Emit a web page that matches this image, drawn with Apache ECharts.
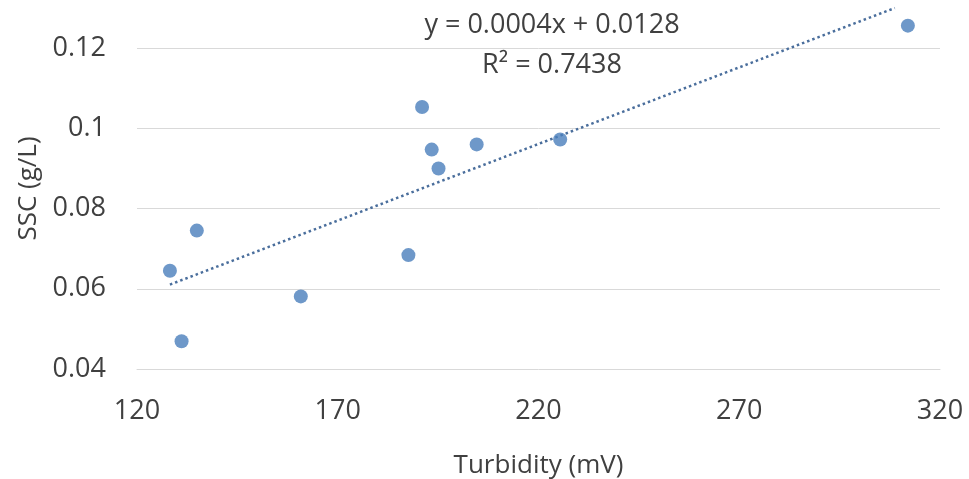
<!DOCTYPE html>
<html>
<head>
<meta charset="utf-8">
<script src="https://cdn.jsdelivr.net/npm/echarts@6/dist/echarts.min.js"></script>
<style>
  html, body { margin: 0; padding: 0; background: #fff; }
  #chart { width: 969px; height: 479px; }
</style>
</head>
<body>
<div id="chart"></div>
<script>
// turbidity readings (mV) and matching SSC (g/L)
var turbidity = [128.2, 131.1, 134.9, 160.8, 187.6, 191.0, 193.4, 195.1, 204.6, 225.4, 312.0];
var ssc = [0.0645, 0.0469, 0.0745, 0.0581, 0.0684, 0.1053, 0.0947, 0.0900, 0.0960, 0.0972, 0.1256];

var xTicks = [120, 170, 220, 270, 320];
var equationText = 'y = 0.0004x + 0.0128';
var r2Text = 'R\u00b2 = 0.7438';

var yMin = 0.04, yMax = 0.13;
var textColor = '#404040';
var fontFam = '"Open Sans", sans-serif';

// points for scatter
var points = [];
for (var i = 0; i < turbidity.length; i++) {
    points.push([turbidity[i], ssc[i]]);
}

// linear trendline (least squares), from min x to max x like excel does
function linearFit(xs, ys) {
    var n = xs.length, mx = 0, my = 0;
    for (var i = 0; i < n; i++) { mx += xs[i]; my += ys[i]; }
    mx /= n; my /= n;
    var sxy = 0, sxx = 0;
    for (var j = 0; j < n; j++) {
        sxy += (xs[j] - mx) * (ys[j] - my);
        sxx += (xs[j] - mx) * (xs[j] - mx);
    }
    var slope = sxy / sxx;
    return { slope: slope, intercept: my - slope * mx };
}
var fit = linearFit(turbidity, ssc);
var xLo = Math.min.apply(null, turbidity);
var xHi = Math.max.apply(null, turbidity);
// the plot top cuts the line off, so stop it where it reaches yMax
var xEnd = Math.min(xHi, (yMax - fit.intercept) / fit.slope);
var trend = [
    [xLo, fit.intercept + fit.slope * xLo],
    [xEnd, fit.intercept + fit.slope * xEnd]
];

var myChart = echarts.init(document.getElementById('chart'));

var option = {
    animation: false,
    backgroundColor: '#fff',
    grid: { left: 137, right: 29, top: 8, bottom: 110, outerBoundsMode: 'none' },
    xAxis: {
        type: 'value',
        min: 120,
        max: 320,
        name: 'Turbidity (mV)',
        nameLocation: 'middle',
        nameGap: 84,
        nameTextStyle: { color: textColor, fontSize: 26, fontFamily: fontFam },
        axisLine: { show: true, lineStyle: { color: '#d9d9d9', width: 1 } },
        axisTick: { show: false },
        splitLine: { show: false },
        axisLabel: {
            customValues: xTicks,
            margin: 29,
            color: textColor,
            fontSize: 27,
            fontFamily: fontFam
        }
    },
    yAxis: {
        type: 'value',
        min: yMin,
        max: yMax,
        interval: 0.02,
        name: 'SSC (g/L)',
        nameLocation: 'middle',
        nameGap: 95,
        nameTextStyle: { color: textColor, fontSize: 26, fontFamily: fontFam },
        axisLine: { show: false },
        axisTick: { show: false },
        splitLine: { show: true, showMinLine: false, showMaxLine: false, lineStyle: { color: '#d9d9d9', width: 1 } },
        axisLabel: {
            showMaxLabel: false,
            margin: 31,
            color: textColor,
            fontSize: 27,
            fontFamily: fontFam
        }
    },
    series: [
        {
            name: 'trend',
            type: 'line',
            data: trend,
            symbol: 'none',
            lineStyle: { color: '#4a6e9c', width: 2.5, type: [2.5, 3] },
            z: 1
        },
        {
            name: 'SSC',
            type: 'scatter',
            data: points,
            symbolSize: 14,
            itemStyle: { color: '#4a7ebb' },
            z: 2
        }
    ],
    graphic: [
        {
            type: 'text',
            style: {
                text: equationText,
                x: 552, y: 25,
                textAlign: 'center', textVerticalAlign: 'middle',
                fill: textColor, fontSize: 27, fontFamily: fontFam
            }
        },
        {
            type: 'text',
            style: {
                text: r2Text,
                x: 552, y: 65,
                textAlign: 'center', textVerticalAlign: 'middle',
                fill: textColor, fontSize: 27, fontFamily: fontFam
            }
        }
    ]
};

myChart.setOption(option);
</script>
</body>
</html>
